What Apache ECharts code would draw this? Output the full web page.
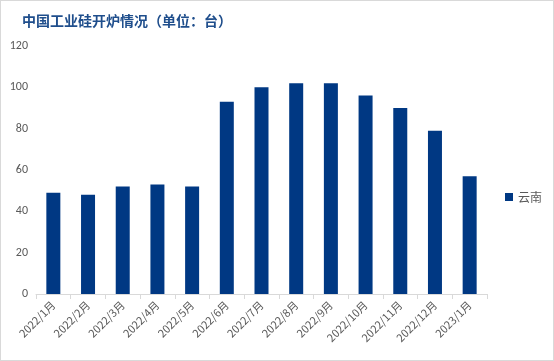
<!DOCTYPE html>
<html><head><meta charset="utf-8">
<script src="https://cdn.jsdelivr.net/npm/echarts@6/dist/echarts.min.js"></script>
<style>html,body{margin:0;padding:0;background:#fff}#c{width:554px;height:361px;box-sizing:border-box;border:1px solid #d9d9d9}</style>
</head><body><div id="c"></div>
<script>
const categories = ['2022/1月','2022/2月','2022/3月','2022/4月','2022/5月','2022/6月','2022/7月','2022/8月','2022/9月','2022/10月','2022/11月','2022/12月','2023/1月'];
const yunnan = [49,48,52,53,52,93,100,102,102,96,90,79,57];
const seriesName = '云南';
const titleText = '中国工业硅开炉情况（单位：台）';
const chart = echarts.init(document.getElementById('c'));
chart.setOption({
  animation:false,
  title:{text:titleText,left:16,top:8,textStyle:{fontFamily:'Noto Sans CJK SC',fontSize:14,fontWeight:'bold',color:'#1f4e8c'}},
  legend:{orient:'vertical',left:499,top:185,itemWidth:8,itemHeight:8,itemGap:4,icon:'rect',
    textStyle:{fontFamily:'Noto Sans CJK SC',fontSize:12,color:'#595959'},data:[seriesName]},
  grid:{left:35,right:66,top:45,bottom:66,containLabel:false},
  xAxis:{type:'category',data:categories,
    axisLine:{lineStyle:{color:'#d9d9d9'}},
    axisTick:{show:true,alignWithLabel:false,length:5,lineStyle:{color:'#d9d9d9'}},
    axisLabel:{rotate:45,interval:0,fontFamily:'Noto Sans CJK SC',fontSize:11,color:'#595959',margin:9}},
  yAxis:{type:'value',min:0,max:120,interval:20,
    axisLine:{show:false},axisTick:{show:false},splitLine:{show:false},
    axisLabel:{fontFamily:'Calibri, Liberation Sans, sans-serif',fontSize:12,color:'#595959',margin:8}},
  series:[{name:seriesName,type:'bar',data:yunnan,barWidth:14,itemStyle:{color:'#003883'}}]
});
</script></body></html>
